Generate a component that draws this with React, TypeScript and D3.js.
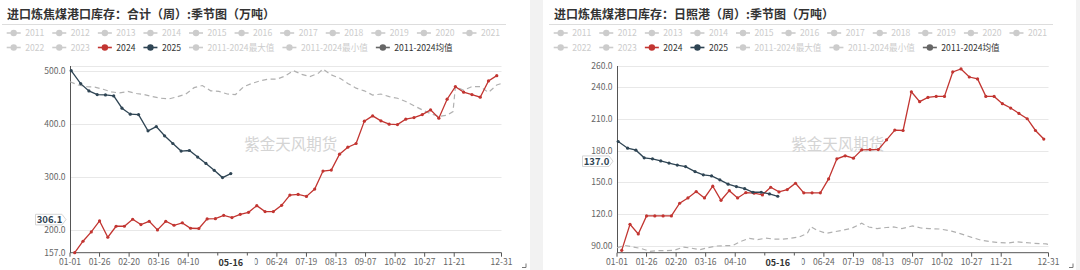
import React from 'react';
import * as d3 from 'd3';

const W = 1080;
const H = 270;
const FONT = '"Microsoft YaHei","Noto Sans CJK SC","Noto Sans",sans-serif';
const RED = '#c23531';
const NAVY = '#2f4554';
const AVG_ICON = '#666666';
const AVG_LINE = '#b0b0b0';
const OFF = '#cccccc';

// category axis: every day of a (leap) year, MM-DD
const CATEGORIES: string[] = d3.timeDay
  .range(new Date(2024, 0, 1), new Date(2025, 0, 1))
  .map(d3.timeFormat('%m-%d'));

const X_TICKS = ['01-01', '01-26', '02-20', '03-16', '04-10', '05-05', '05-30', '06-24', '07-19', '08-13', '09-07', '10-02', '10-27', '11-21', '12-31'];
const X_HIDDEN_LABELS = ['05-05'];
const POINTER_DATE = '05-16';

const LEGEND_ROW1 = ['2011', '2012', '2013', '2014', '2015', '2016', '2017', '2018', '2019', '2020', '2021'];
const LEGEND_ROW2 = ['2022', '2023', '2024', '2025', '2011-2024最大值', '2011-2024最小值', '2011-2024均值'];

const DATES_2024 = ['01-05', '01-12', '01-19', '01-26', '02-02', '02-09', '02-16', '02-23', '03-01', '03-08', '03-15', '03-22', '03-29', '04-05', '04-12', '04-19', '04-26', '05-03', '05-10', '05-17', '05-24', '05-31', '06-07', '06-14', '06-21', '06-28', '07-05', '07-12', '07-19', '07-26', '08-02', '08-09', '08-16', '08-23', '08-30', '09-06', '09-13', '09-20', '09-27', '10-04', '10-11', '10-18', '10-25', '11-01', '11-08', '11-15', '11-22', '11-29', '12-06', '12-13', '12-20', '12-27'];
const DATES_2025 = ['01-02', '01-10', '01-17', '01-24', '01-31', '02-07', '02-14', '02-21', '02-28', '03-07', '03-14', '03-21', '03-28', '04-04', '04-11', '04-18', '04-25', '05-02', '05-09', '05-16'];

// 合计
const TOTAL_2024 = [157.0, 178.6, 196.2, 216.9, 186.1, 206.8, 206.8, 220.0, 210.0, 216.2, 200.0, 216.2, 208.7, 213.2, 203.1, 202.6, 220.6, 221.2, 227.4, 223.1, 229.3, 233.1, 245.7, 234.4, 234.4, 246.2, 265.6, 266.8, 263.1, 276.9, 310.8, 312.6, 342.7, 355.8, 362.8, 404.9, 414.8, 405.5, 399.2, 398.5, 408.6, 411.7, 417.3, 426.1, 410.5, 446.2, 470.0, 459.4, 455.0, 450.0, 480.6, 490.6];
const TOTAL_2025 = [500.0, 475.6, 461.9, 455.0, 454.3, 452.5, 429.3, 418.0, 417.3, 386.7, 394.7, 377.3, 362.8, 348.5, 349.6, 337.2, 325.2, 312.2, 298.5, 306.1];
const TOTAL_AVG_DATES = ['01-01', '01-08', '01-15', '01-22', '01-29', '02-05', '02-12', '02-19', '02-26', '03-04', '03-11', '03-18', '03-25', '04-01', '04-08', '04-15', '04-22', '04-29', '05-06', '05-13', '05-20', '05-27', '06-03', '06-10', '06-17', '06-24', '07-01', '07-08', '07-15', '07-22', '07-29', '08-02', '08-09', '08-16', '08-23', '08-30', '09-06', '09-13', '09-20', '09-27', '10-04', '10-11', '10-18', '10-25', '11-01', '11-08', '11-15', '11-20', '11-22', '11-29', '12-06', '12-13', '12-20', '12-27', '12-31'];
const TOTAL_AVG = [479, 473, 470, 469, 465, 460, 458, 461, 457, 455, 451, 448, 447, 451, 456, 468, 472, 462, 461, 456, 455, 470, 476, 481, 484, 484, 490, 500, 493, 489, 495, 503, 492, 486, 476, 467, 462, 454, 456, 451, 448, 442, 434, 426, 419, 414, 416, 423, 470, 463, 470, 470, 459, 473, 476];
const TOTAL_Y_TICKS = [157, 200, 300, 400, 500];
const TOTAL_Y_LABELS = ['157.0', '200.0', '300.0', '400.0', '500.0'];
const TOTAL_DOMAIN = [157, 508.8];

// 日照港
const RIZHAO_2024 = [85.9, 110.5, 101.4, 118.4, 118.4, 118.4, 118.4, 130.4, 135.4, 141.4, 135.4, 146.5, 133.2, 142.3, 135.4, 140.5, 139.9, 138.3, 145.5, 141.1, 143.3, 149.3, 140.2, 140.2, 140.2, 153.4, 172.3, 175.2, 173.0, 180.8, 181.1, 181.1, 190.3, 199.5, 199.1, 235.7, 226.3, 230.3, 231.3, 231.3, 254.4, 257.2, 249.6, 247.8, 231.3, 231.3, 224.4, 220.3, 215.2, 210.2, 199.1, 191.0];
const RIZHAO_2025 = [188.7, 182.4, 180.5, 173.3, 172.3, 170.4, 168.3, 166.4, 165.0, 160.3, 157.2, 156.2, 152.5, 148.4, 146.1, 144.2, 140.8, 140.8, 139.2, 137.0];
const RIZHAO_AVG_DATES = ['01-01', '01-08', '01-15', '01-22', '01-29', '02-05', '02-12', '02-19', '02-26', '03-04', '03-11', '03-18', '03-25', '04-01', '04-08', '04-15', '04-22', '04-29', '05-06', '05-13', '05-20', '05-27', '06-03', '06-10', '06-13', '06-18', '06-26', '07-03', '07-10', '07-17', '07-26', '08-01', '08-08', '08-16', '08-22', '08-29', '09-07', '09-14', '09-21', '10-01', '10-10', '10-18', '10-27', '11-04', '11-11', '11-17', '11-26', '12-04', '12-12', '12-19', '12-29', '12-31'];
const RIZHAO_AVG = [88.4, 90.5, 89, 87.5, 85, 85.6, 85.6, 86.2, 89, 88, 86.5, 88.5, 90, 90.3, 90.5, 94.5, 97.3, 96, 97.5, 96.5, 96.5, 97.3, 98.5, 102, 108.3, 105, 102, 103.5, 105, 106.5, 111.5, 108, 106.5, 107.5, 108, 106.5, 109, 107, 106.5, 106, 104, 101.5, 98.2, 95.5, 94.3, 93.5, 92.8, 94, 93.2, 92.6, 92, 91.5];
const RIZHAO_Y_TICKS = [90, 120, 150, 180, 210, 240, 260];
const RIZHAO_Y_LABELS = ['90.00', '120.0', '150.0', '180.0', '210.0', '240.0', '260.0'];
const RIZHAO_DOMAIN = [83.7, 260];

let ctx: CanvasRenderingContext2D | null = null;
function measure(text: string, font: string): number {
  if (!ctx) ctx = document.createElement('canvas').getContext('2d');
  if (!ctx) return text.length * 5;
  ctx.font = font;
  return ctx.measureText(text).width;
}

type PanelCfg = {
  offset: number;
  bg: [number, number];
  title: string;
  domain: number[];
  yTicks: number[];
  yLabels: string[];
  s2024: number[];
  s2025: number[];
  avgDates: string[];
  avg: number[];
  pointerY: number;
  pointerText: string;
};

const PANELS: PanelCfg[] = [
  { offset: 0, bg: [0, 530], title: '进口炼焦煤港口库存：合计（周）:季节图（万吨）', domain: TOTAL_DOMAIN, yTicks: TOTAL_Y_TICKS, yLabels: TOTAL_Y_LABELS, s2024: TOTAL_2024, s2025: TOTAL_2025, avgDates: TOTAL_AVG_DATES, avg: TOTAL_AVG, pointerY: 219.6, pointerText: '306.1' },
  { offset: 547, bg: [-4, 529], title: '进口炼焦煤港口库存：日照港（周）:季节图（万吨）', domain: RIZHAO_DOMAIN, yTicks: RIZHAO_Y_TICKS, yLabels: RIZHAO_Y_LABELS, s2024: RIZHAO_2024, s2025: RIZHAO_2025, avgDates: RIZHAO_AVG_DATES, avg: RIZHAO_AVG, pointerY: 161.2, pointerText: '137.0' },
];

const X0 = 70;
const X1 = 501.5;
const Y_TOP = 66;
const Y_BOT = 252.7;
const LEG_FS = 8.6;

function Legend() {
  const font = `${LEG_FS}px ${FONT}`;
  const rows = [LEGEND_ROW1, LEGEND_ROW2];
  const ys = [33, 47.5];
  const items: React.ReactNode[] = [];
  rows.forEach((row, ri) => {
    let x = 6.7;
    row.forEach((name) => {
      let color = OFF;
      let textColor = OFF;
      if (name === '2024') { color = RED; textColor = '#333'; }
      if (name === '2025') { color = NAVY; textColor = '#333'; }
      if (name === '2011-2024均值') { color = AVG_ICON; textColor = '#333'; }
      const y = ys[ri];
      items.push(
        <g key={ri + name}>
          <line x1={x} x2={x + 14} y1={y} y2={y} stroke={color} strokeWidth={1.6} />
          <circle cx={x + 7} cy={y} r={3.2} fill={color} />
          <text x={x + 18.5} y={y} dy="0.35em" fontSize={LEG_FS} fontFamily={FONT} fill={textColor}>{name}</text>
        </g>
      );
      x += 18.5 + measure(name, font) + 8;
    });
  });
  return <g>{items}</g>;
}

function Panel({ cfg }: { cfg: PanelCfg }) {
  const x = d3.scalePoint<string>().domain(CATEGORIES).range([X0, X1]);
  const y = d3.scaleLinear().domain(cfg.domain).range([Y_BOT, Y_TOP]);
  const line = d3.line<[string, number]>().x((d) => x(d[0]) as number).y((d) => y(d[1]));
  const d2024 = DATES_2024.map((d, i) => [d, cfg.s2024[i]] as [string, number]);
  const d2025 = DATES_2025.map((d, i) => [d, cfg.s2025[i]] as [string, number]);
  const dAvg = cfg.avgDates.map((d, i) => [d, cfg.avg[i]] as [string, number]);
  const gridVals = [...cfg.yTicks.filter((v) => v > cfg.domain[0]), cfg.domain[1]];
  const px = x(POINTER_DATE) as number;
  const py = cfg.pointerY;
  return (
    <g transform={`translate(${cfg.offset},0)`}>
      <rect x={cfg.bg[0]} y={0} width={cfg.bg[1] - cfg.bg[0]} height={H} fill="#ffffff" />
      <text x={7} y={18.5} fontSize={12} fontWeight="bold" fontFamily={FONT} fill="#333">{cfg.title}</text>
      <line x1={2} x2={506} y1={24.5} y2={24.5} stroke="#dddddd" strokeWidth={1} />
      <Legend />
      {gridVals.map((v) => (
        <line key={'g' + v} x1={X0} x2={X1} y1={Math.round(y(v)) + 0.5} y2={Math.round(y(v)) + 0.5} stroke="#e8e8e8" strokeWidth={1} />
      ))}
      {cfg.yTicks.map((v, i) => (
        <text key={'yl' + v} x={65.5} y={y(v)} dy="0.35em" textAnchor="end" fontSize={8.5} fontFamily={FONT} fill="#666">{cfg.yLabels[i]}</text>
      ))}
      <text x={(X0 + X1) / 2 + 5} y={145} dy="0.35em" textAnchor="middle" fontSize={15.5} fontFamily={FONT} fill="#d4d4d4">紫金天风期货</text>
      <line x1={X0 + 0.5} x2={X0 + 0.5} y1={Y_TOP} y2={Y_BOT} stroke="#555" strokeWidth={1} />
      <line x1={X0} x2={X1} y1={Y_BOT} y2={Y_BOT} stroke="#555" strokeWidth={1} />
      {X_TICKS.map((lab) => {
        const xx = x(lab) as number;
        return (
          <g key={'x' + lab}>
            <line x1={xx} x2={xx} y1={Y_BOT} y2={Y_BOT + 4} stroke="#555" strokeWidth={1} />
            {X_HIDDEN_LABELS.includes(lab) ? null : (
              <text x={xx} y={262.5} dy="0.35em" textAnchor="middle" fontSize={8.5} fontFamily={FONT} fill="#666">{lab}</text>
            )}
          </g>
        );
      })}
      <path d={line(dAvg) || ''} fill="none" stroke={AVG_LINE} strokeWidth={1.2} strokeDasharray="5,3.5" />
      <path d={line(d2024) || ''} fill="none" stroke={RED} strokeWidth={1.3} />
      {d2024.map((d) => (
        <circle key={'r' + d[0]} cx={x(d[0]) as number} cy={y(d[1])} r={1.6} fill={RED} />
      ))}
      <path d={line(d2025) || ''} fill="none" stroke={NAVY} strokeWidth={1.3} />
      {d2025.map((d) => (
        <circle key={'n' + d[0]} cx={x(d[0]) as number} cy={y(d[1])} r={1.6} fill={NAVY} />
      ))}
      {/* axis pointer labels */}
      <rect x={px - 24} y={255.5} width={48} height={14} fill="#ffffff" />
      <text x={px} y={263} dy="0.35em" textAnchor="middle" fontSize={9} fontWeight="bold" fontFamily={FONT} fill="#333">{POINTER_DATE}</text>
      <path d={`M35.5,${py - 5.3} L62,${py - 5.3} L66,${py} L62,${py + 5.3} L35.5,${py + 5.3} Z`} fill="#ffffff" stroke="#cccccc" strokeWidth={0.8} />
      <text x={49.5} y={py} dy="0.36em" textAnchor="middle" fontSize={9.5} fontWeight="bold" fontFamily={FONT} fill={NAVY}>{cfg.pointerText}</text>
      <path d="M522,267.5 L526,267.5 L526,263.5" fill="none" stroke="#777" strokeWidth={1} />
    </g>
  );
}

export default function App() {
  return (
    <svg width={W} height={H} style={{ position: 'absolute', left: 0, top: 0, display: 'block' }}>
      <rect x={0} y={0} width={W} height={H} fill="#f2f2f2" />
      {PANELS.map((p) => (
        <Panel key={p.offset} cfg={p} />
      ))}
    </svg>
  );
}
